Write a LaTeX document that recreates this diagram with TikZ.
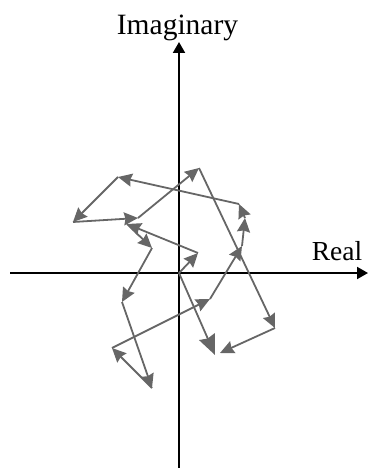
\documentclass[tikz,border=0pt]{standalone}
\usepackage{fontspec}
\setmainfont{Liberation Serif}
\usetikzlibrary{arrows.meta}
\definecolor{vecgray}{HTML}{666666}
\begin{document}
\begin{tikzpicture}[x=1pt,y=-1pt,
  axis/.style={line width=1.9pt, black, -{Triangle[length=11pt,width=12pt]}},
  vec/.style={line width=1.8pt, vecgray, -{Stealth[length=14pt,width=13pt,inset=1.5pt]}},
  res/.style={line width=1.8pt, vecgray, -{Stealth[length=20pt,width=17pt,inset=2pt]}},
  lab/.style={inner sep=0pt, anchor=base}]
\useasboundingbox (0,0) rectangle (368,468);
% axes
\coordinate (xl) at (10,273);
\coordinate (xr) at (368,273);
\coordinate (yb) at (179,468);
\coordinate (yt) at (179,42);
\draw[axis] (xl) -- (xr);
\draw[axis] (yb) -- (yt);
\node[lab, font=\fontsize{29.5}{31}\selectfont] (im) at (177.5,35) {Imaginary};
\node[lab, font=\fontsize{27.5}{30}\selectfont] (re) at (337,260) {Real};
% phasor chain
\coordinate (o) at (179,273);
\coordinate (p1) at (198,253);
\coordinate (p2) at (127,224);
\coordinate (p3) at (152,248);
\coordinate (p4) at (122,302);
\coordinate (p5) at (152,388);
\coordinate (p6) at (112,348);
\coordinate (p7) at (210,299);
\coordinate (p8) at (242,246);
\coordinate (p9) at (245,218);
\coordinate (p10) at (239,204);
\coordinate (p11) at (118,177);
\coordinate (p12) at (73,222);
\coordinate (p13) at (138,218);
\coordinate (p14) at (199,168);
\coordinate (p15) at (275,328);
\coordinate (p16) at (220,353);
\coordinate (r) at (215,355);
\draw[vec] (o) -- (p1);
\draw[vec] (p1) -- (p2);
\draw[vec] (p2) -- (p3);
\draw[vec] (p3) -- (p4);
\draw[vec] (p4) -- (p5);
\draw[vec] (p5) -- (p6);
\draw[vec] (p6) -- (p7);
\draw[vec] (p7) -- (p8);
\draw[vec] (p8) -- (p9);
\draw[vec] (p9) -- (p10);
\draw[vec] (p10) -- (p11);
\draw[vec] (p11) -- (p12);
\draw[vec] (p12) -- (p13);
\draw[vec] (p13) -- (p14);
\draw[vec] (p14) -- (p15);
\draw[vec] (p15) -- (p16);
\draw[res] (o) -- (r);
\end{tikzpicture}
\end{document}
